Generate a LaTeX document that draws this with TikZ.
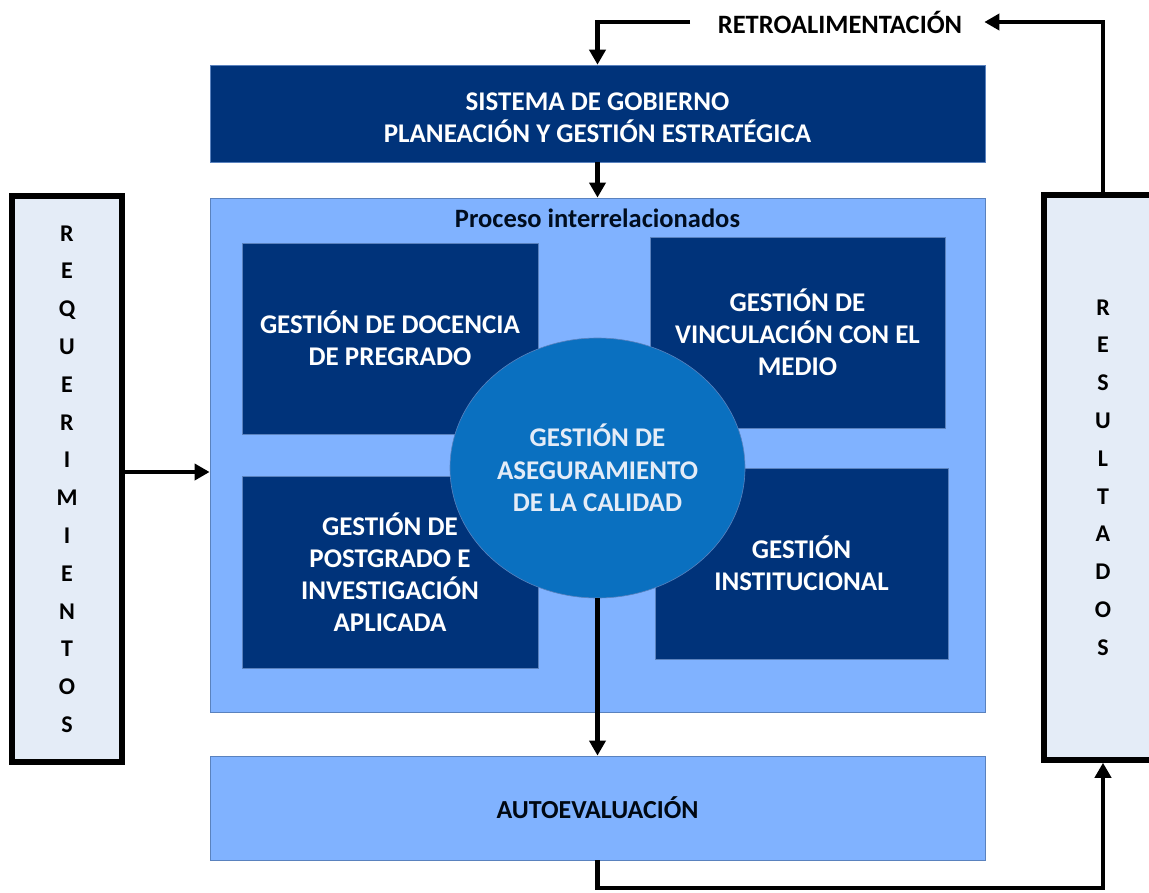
\documentclass[tikz,border=0pt]{standalone}
\usepackage{fontspec}
\setmainfont{Carlito}
\usetikzlibrary{arrows.meta,shapes.geometric}

\definecolor{navy}{RGB}{0,51,122}
\definecolor{skyblue}{RGB}{128,178,255}
\definecolor{midblue}{RGB}{10,112,192}
\definecolor{paleblue}{RGB}{228,236,247}
\definecolor{edgeblue}{RGB}{90,130,190}

\tikzset{
  navybox/.style={rectangle, fill=navy, draw=edgeblue, line width=0.6pt, text=white,
    font=\fontsize{27}{32}\selectfont\bfseries, align=center, inner sep=0pt},
  lightbox/.style={rectangle, fill=skyblue, draw=edgeblue, line width=0.8pt,
    font=\fontsize{26}{31}\selectfont\bfseries, inner sep=0pt},
  sidebox/.style={rectangle, fill=paleblue, draw=black, line width=5.5pt,
    font=\fontsize{24}{37.8}\selectfont\bfseries, align=center, inner sep=0pt},
  flow/.style={line width=4.2pt, -{Triangle[length=15pt,width=16pt]}},
}

\begin{document}
\begin{tikzpicture}[x=1pt,y=-1pt]
  \useasboundingbox (0,0) rectangle (1149,892);
  \clip (0,0) rectangle (1149,892); % el recuadro de la derecha queda cortado

  % bloque superior
  \node[navybox, minimum width=775pt, minimum height=97pt] (gobierno) at (597.5,113.5)
    {\\[-5pt]SISTEMA DE GOBIERNO\\PLANEACIÓN Y GESTIÓN ESTRATÉGICA};
  \node[font=\fontsize{26.5}{30}\selectfont\bfseries, inner sep=0pt] (retro) at (840,22) {RETROALIMENTACIÓN};

  % procesos
  \node[lightbox, minimum width=775pt, minimum height=514pt] (procesos) at (597.5,455) {};
  \node[font=\fontsize{26.5}{30}\selectfont\bfseries, text=black!75!navy, below=11pt, inner sep=0pt] (titulo) at (procesos.north) {Proceso interrelacionados};
  \node[navybox, minimum width=296pt, minimum height=191pt] (docencia) at (390,338.5)
    {GESTIÓN DE DOCENCIA\\DE PREGRADO};
  \node[navybox, minimum width=295pt, minimum height=191pt] (vinculacion) at (797.5,332.5)
    {GESTIÓN DE\\VINCULACIÓN CON EL\\MEDIO};
  \node[navybox, minimum width=296pt, minimum height=192pt] (postgrado) at (390,572)
    {GESTIÓN DE\\POSTGRADO E\\INVESTIGACIÓN\\APLICADA};
  \node[navybox, minimum width=293pt, minimum height=191pt] (institucional) at (801.5,563.5)
    {GESTIÓN\\INSTITUCIONAL};
  \node[ellipse, fill=midblue, draw=edgeblue, line width=0.6pt, minimum width=295pt, minimum height=260pt,
    inner sep=0pt, text=paleblue, font=\fontsize{27}{32.5}\selectfont\bfseries, align=center] (calidad) at (597.5,468)
    {GESTIÓN DE\\ASEGURAMIENTO\\DE LA CALIDAD};

  % bloque inferior
  \node[lightbox, minimum width=775pt, minimum height=104pt, text=black!85!navy] (auto) at (597.5,808) {AUTOEVALUACIÓN};

  % laterales
  \node[sidebox, minimum width=110pt, minimum height=566pt] (requer) at (67,479)
    {R\\E\\Q\\U\\E\\R\\I\\M\\I\\E\\N\\T\\O\\S};
  \node[sidebox, minimum width=118pt, minimum height=565pt] (result) at (1103,477.5)
    {R\\E\\S\\U\\L\\T\\A\\D\\O\\S};

  % flechas
  \coordinate (retrogap) at (690,22);
  \coordinate (bajo) at (597.5,888);
  \coordinate (entrada) at (122,472);
  \draw[flow] (retrogap) -| (gobierno.north);
  \draw[flow] (gobierno.south) -- (procesos.north);
  \draw[flow] (entrada) -- (entrada -| procesos.west);
  \draw[flow] (calidad.south) -- (auto.north);
  \draw[flow] (auto.south) -- (bajo) -| (result.south);
  \draw[flow] (result.north) |- ([xshift=22pt]retro.east);
\end{tikzpicture}
\end{document}
